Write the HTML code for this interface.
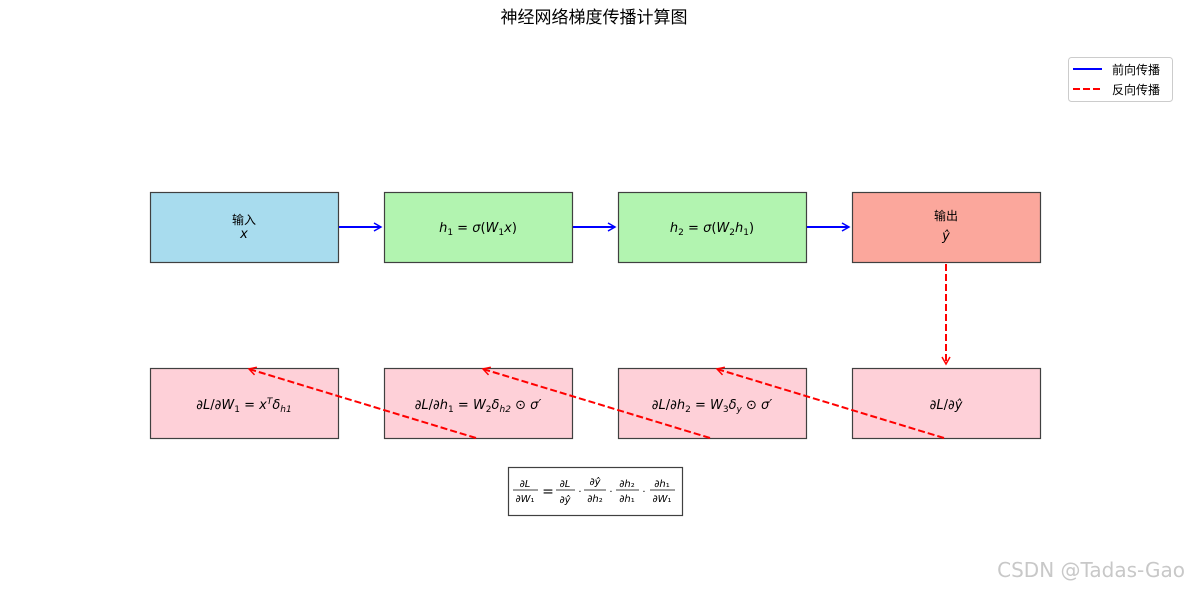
<!DOCTYPE html>
<html><head><meta charset="utf-8"><style>
body{margin:0;background:#fff;}
svg text{font-family:"DejaVu Sans","Liberation Sans","Noto Sans CJK SC",sans-serif;}
.m{font-style:italic;}
</style></head><body>
<svg width="1189" height="589" viewBox="0 0 1189 589" xmlns="http://www.w3.org/2000/svg">
<defs>
<marker id="ab" markerWidth="10" markerHeight="10" refX="8" refY="5" orient="auto" markerUnits="userSpaceOnUse"><path d="M1,1 L8,5 L1,9" fill="none" stroke="#0000ff" stroke-width="1.5"/></marker>
<marker id="ar" markerWidth="10" markerHeight="10" refX="8" refY="5" orient="auto" markerUnits="userSpaceOnUse"><path d="M1,1 L8,5 L1,9" fill="none" stroke="#ff0000" stroke-width="1.5"/></marker>
</defs>
<text x="594" y="23" text-anchor="middle" font-size="17" font-family="Noto Sans CJK SC,sans-serif">神经网络梯度传播计算图</text>
<g stroke="#404040" stroke-width="1.2">
<rect x="150.5" y="192.5" width="188" height="70" fill="#a8dcee"/>
<rect x="384.5" y="192.5" width="188" height="70" fill="#b2f4b0"/>
<rect x="618.5" y="192.5" width="188" height="70" fill="#b2f4b0"/>
<rect x="852.5" y="192.5" width="188" height="70" fill="#fba79c"/>
<rect x="150.5" y="368.5" width="188" height="70" fill="#fed0d8"/>
<rect x="384.5" y="368.5" width="188" height="70" fill="#fed0d8"/>
<rect x="618.5" y="368.5" width="188" height="70" fill="#fed0d8"/>
<rect x="852.5" y="368.5" width="188" height="70" fill="#fed0d8"/>
<rect x="508.5" y="467.5" width="174" height="48" fill="#fff"/>
</g>
<g font-size="13" text-anchor="middle">
<text x="244" y="224" font-size="12" font-family="Noto Sans CJK SC,sans-serif">输入</text>
<text x="244" y="238" class="m">x</text>
<text x="478" y="232"><tspan class="m">h</tspan><tspan font-size="9" dy="3">1</tspan><tspan dy="-3"> = </tspan><tspan class="m">σ</tspan>(<tspan class="m">W</tspan><tspan font-size="9" dy="3">1</tspan><tspan dy="-3" class="m">x</tspan>)</text>
<text x="712" y="232"><tspan class="m">h</tspan><tspan font-size="9" dy="3">2</tspan><tspan dy="-3"> = </tspan><tspan class="m">σ</tspan>(<tspan class="m">W</tspan><tspan font-size="9" dy="3">2</tspan><tspan dy="-3" class="m">h</tspan><tspan font-size="9" dy="3">1</tspan><tspan dy="-3">)</tspan></text>
<text x="946" y="220" font-size="12" font-family="Noto Sans CJK SC,sans-serif">输出</text>
<text x="946" y="240" class="m">ŷ</text>
<text x="244" y="409">∂<tspan class="m">L</tspan>/∂<tspan class="m">W</tspan><tspan font-size="9" dy="3">1</tspan><tspan dy="-3"> = </tspan><tspan class="m">x</tspan><tspan font-size="9" dy="-5" class="m">T</tspan><tspan dy="5" class="m">δ</tspan><tspan font-size="9" dy="3" class="m">h1</tspan></text>
<text x="478" y="409">∂<tspan class="m">L</tspan>/∂<tspan class="m">h</tspan><tspan font-size="9" dy="3">1</tspan><tspan dy="-3"> = </tspan><tspan class="m">W</tspan><tspan font-size="9" dy="3">2</tspan><tspan dy="-3" class="m">δ</tspan><tspan font-size="9" dy="3" class="m">h2</tspan><tspan dy="-3"> ⊙ </tspan><tspan class="m">σ′</tspan></text>
<text x="712" y="409">∂<tspan class="m">L</tspan>/∂<tspan class="m">h</tspan><tspan font-size="9" dy="3">2</tspan><tspan dy="-3"> = </tspan><tspan class="m">W</tspan><tspan font-size="9" dy="3">3</tspan><tspan dy="-3" class="m">δ</tspan><tspan font-size="9" dy="3" class="m">y</tspan><tspan dy="-3"> ⊙ </tspan><tspan class="m">σ′</tspan></text>
<text x="946" y="409">∂<tspan class="m">L</tspan>/∂<tspan class="m">ŷ</tspan></text>
</g>
<g font-size="10" text-anchor="middle">
<text x="525" y="487">∂<tspan class="m">L</tspan></text><line x1="513" y1="490" x2="538" y2="490" stroke="#000" stroke-width="0.8"/><text x="525" y="502">∂<tspan class="m">W</tspan>₁</text>
<text x="548" y="496" font-size="14">=</text>
<text x="565" y="487">∂<tspan class="m">L</tspan></text><line x1="556" y1="490" x2="575" y2="490" stroke="#000" stroke-width="0.8"/><text x="565" y="503">∂<tspan class="m">ŷ</tspan></text>
<text x="580" y="495">·</text>
<text x="595" y="485">∂<tspan class="m">ŷ</tspan></text><line x1="584" y1="490" x2="606" y2="490" stroke="#000" stroke-width="0.8"/><text x="595" y="502">∂<tspan class="m">h</tspan>₂</text>
<text x="611" y="495">·</text>
<text x="627" y="487">∂<tspan class="m">h</tspan>₂</text><line x1="616" y1="490" x2="639" y2="490" stroke="#000" stroke-width="0.8"/><text x="627" y="502">∂<tspan class="m">h</tspan>₁</text>
<text x="644" y="495">·</text>
<text x="662" y="487">∂<tspan class="m">h</tspan>₁</text><line x1="650" y1="490" x2="675" y2="490" stroke="#000" stroke-width="0.8"/><text x="662" y="502">∂<tspan class="m">W</tspan>₁</text>
</g>
<g stroke="#0000ff" stroke-width="2" fill="none">
<line x1="339" y1="227" x2="381" y2="227" marker-end="url(#ab)"/>
<line x1="573" y1="227" x2="615" y2="227" marker-end="url(#ab)"/>
<line x1="807" y1="227" x2="849" y2="227" marker-end="url(#ab)"/>
</g>
<g stroke="#ff0000" stroke-width="2" fill="none" stroke-dasharray="7,3">
<line x1="946" y1="264" x2="946" y2="364" marker-end="url(#ar)"/>
<line x1="476" y1="438" x2="249" y2="369" marker-end="url(#ar)"/>
<line x1="710" y1="438" x2="483" y2="369" marker-end="url(#ar)"/>
<line x1="944" y1="438" x2="717" y2="369" marker-end="url(#ar)"/>
</g>
<rect x="1068.5" y="57.5" width="104" height="44" rx="3" fill="#fff" stroke="#ccc"/>
<line x1="1073" y1="69" x2="1102" y2="69" stroke="#0000ff" stroke-width="2"/>
<line x1="1073" y1="89" x2="1102" y2="89" stroke="#ff0000" stroke-width="2" stroke-dasharray="7,3"/>
<text x="1112" y="74" font-size="12" font-family="Noto Sans CJK SC,sans-serif">前向传播</text>
<text x="1112" y="94" font-size="12" font-family="Noto Sans CJK SC,sans-serif">反向传播</text>
<text x="1185" y="577" text-anchor="end" font-size="20" fill="#c8c8c8">CSDN @Tadas-Gao</text>
</svg>
</body></html>
